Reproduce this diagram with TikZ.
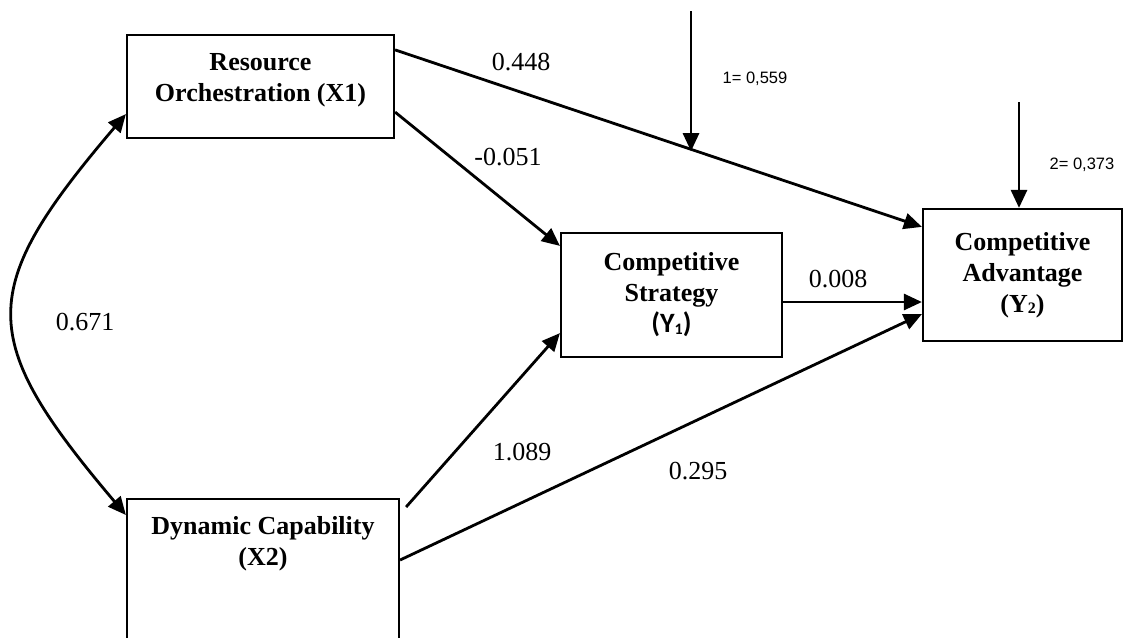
\documentclass[tikz,border=0pt]{standalone}
\usepackage{fontspec}
\setmainfont{Liberation Serif}
\newfontfamily\arialfont{Liberation Sans}
\newfontfamily\calibrifont{Carlito}
\usetikzlibrary{arrows.meta,calc}

\newcommand{\smallidx}[1]{\raisebox{-1.5pt}{\fontsize{16}{16}\selectfont #1}}

\begin{document}
\begin{tikzpicture}[x=1pt,y=-1pt,
  >={Triangle[length=18pt,width=16pt]},
  box/.style={draw,line width=2.2pt,inner sep=0pt},
  lbl/.style={align=center,inner sep=0pt,font=\fontsize{26}{31}\selectfont\bfseries},
  coef/.style={inner sep=0pt,font=\fontsize{26}{31}\selectfont},
  errlbl/.style={inner sep=0pt,font=\arialfont\fontsize{16.5}{20}\selectfont},
  link/.style={line width=2.8pt,->}]
  \path[use as bounding box] (0,0) rectangle (1123,637);
  \clip (0,0) rectangle (1123,637);
  % constructs
  \node[box,minimum width=267pt,minimum height=103pt,label={[lbl,yshift=6pt]center:Resource\\Orchestration (X1)}] (X1) at (260.5,86.5) {};
  \node[box,anchor=north,minimum width=272pt,minimum height=200pt,label={[lbl,anchor=north,yshift=-18.5pt]north:Dynamic Capability\\(X2)}] (X2) at (263,498) {};
  \node[box,lbl,minimum width=221pt,minimum height=124pt] (Y1) at (671.5,295) {Competitive\\Strategy\\{\calibrifont\fontsize{28}{31}\selectfont(Y\smallidx{1})}};
  \node[box,lbl,minimum width=199pt,minimum height=132pt] (Y2) at (1022.5,275) {Competitive\\Advantage\\(Y\smallidx{2})};
  % paths
  \draw[link] ($(X1.north east)+(0,16)$) -- coordinate[pos=0.561] (hit) ($(Y2.north west)+(0,19)$);
  \draw[link] ($(X1.south east)+(0,-27)$) -- ($(Y1.north west)+(0,14)$);
  \draw[link] ($(X2.north east)+(6,9)$) -- ($(Y1.south west)+(0,-25)$);
  \draw[link] ($(X2.north east)+(0,62)$) -- ($(Y2.south west)+(0,-28)$);
  \draw[link] ($(Y1.east)+(0,7)$) -- ($(Y2.west)+(0,27)$);
  \draw[link,<->] ($(X1.south west)+(0,-25)$) .. controls (-24,290) and (-24,338) .. ($(X2.north west)+(0,17)$);
  % error terms
  \coordinate (err1) at (691,11);
  \coordinate (err2) at (1019,102);
  \draw[link] (err1) -- ($(err1 |- hit)+(0,2)$);
  \draw[link] (err2) -- (err2 |- Y2.north);
  % coefficients
  \node[coef] (b448) at (521,62) {0.448};
  \node[coef] (b051) at (508,157) {-0.051};
  \node[coef] (b008) at (838,279) {0.008};
  \node[coef] (b089) at (522,452) {1.089};
  \node[coef] (b295) at (698,471) {0.295};
  \node[coef] (r671) at (85,322) {0.671};
  \node[errlbl] (z1) at (755,79) {1= 0,559};
  \node[errlbl] (z2) at (1082,165) {2= 0,373};
\end{tikzpicture}
\end{document}
